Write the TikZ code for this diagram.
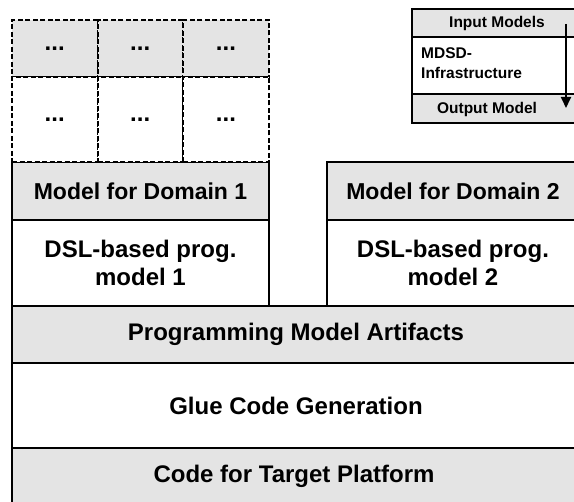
\documentclass[tikz,border=0pt]{standalone}
\usepackage{fontspec}
\setmainfont{Liberation Sans}
\usetikzlibrary{arrows.meta}
\definecolor{boxgray}{HTML}{E4E4E4}
\tikzset{
  base/.style={draw=black, line width=2pt, inner sep=0pt, outer sep=0pt, anchor=north west,
    font=\fontsize{24}{27.5}\selectfont\bfseries, align=center},
  graybox/.style={base, fill=boxgray},
  whitebox/.style={base, fill=white},
  headfont/.style={font=\fontsize{23}{27}\selectfont\bfseries},
  dashcell/.style={draw=black, line width=2pt, dash pattern=on 5pt off 2.5pt, inner sep=0pt,
    outer sep=0pt, anchor=north west, font=\fontsize{24}{27}\selectfont\bfseries},
  insetbox/.style={draw=black, line width=2pt, inner sep=0pt, outer sep=0pt, anchor=north west},
  insetfont/.style={font=\fontsize{15.5}{20}\selectfont\bfseries},
  flowarrow/.style={line width=1.8pt, -{Triangle[width=10pt,length=11pt]}}
}
\begin{document}
\begin{tikzpicture}[x=1pt, y=-1pt]
\useasboundingbox (0,0) rectangle (574,502);
\clip (0,0) rectangle (574,502);
% bottom layers
\node[graybox, minimum width=568pt, minimum height=57pt] (pma) at (12,306) {Programming Model Artifacts};
\node[whitebox, minimum width=568pt, minimum height=85pt] (glue) at (12,363) {Glue Code Generation};
\node[graybox, minimum width=568pt, minimum height=60pt] (code) at (12,448) {};
\node at (294,476) [font=\fontsize{24}{27}\selectfont\bfseries] (codetxt) {Code for Target Platform};
% domain 1
\node[graybox, headfont, minimum width=257pt, minimum height=58pt] (dom1) at (12,162) {Model for Domain 1};
\node[whitebox, minimum width=257pt, minimum height=86pt] (dsl1) at (12,220) {DSL-based prog.\\model 1};
% domain 2
\node[graybox, headfont, minimum width=252pt, minimum height=58pt] (dom2) at (327,162) {Model for Domain 2};
\node[whitebox, minimum width=252pt, minimum height=86pt] (dsl2) at (327,220) {DSL-based prog.\\model 2};
% dashed grid
\node[dashcell, fill=boxgray, minimum width=85.5pt, minimum height=57pt] (g11) at (12,20) {...};
\node[dashcell, fill=boxgray, minimum width=85.5pt, minimum height=57pt] (g12) at (97.5,20) {...};
\node[dashcell, fill=boxgray, minimum width=86pt, minimum height=57pt] (g13) at (183,20) {...};
\node[dashcell, fill=white, minimum width=85.5pt, minimum height=85pt] (g21) at (12,77) {...};
\node[dashcell, fill=white, minimum width=85.5pt, minimum height=85pt] (g22) at (97.5,77) {...};
\node[dashcell, fill=white, minimum width=86pt, minimum height=85pt] (g23) at (183,77) {...};
% inset legend
\node[insetbox, fill=boxgray, minimum width=166pt, minimum height=28pt] (inp) at (412,9) {};
\node[insetfont] (inptxt) at (497,23) {Input Models};
\node[insetbox, fill=white, minimum width=166pt, minimum height=57pt] (mdsd) at (412,37) {};
\node[insetfont, align=left, anchor=west, inner sep=0pt] (mdsdtxt) at (421,63) {MDSD-\\Infrastructure};
\node[insetbox, fill=boxgray, minimum width=166pt, minimum height=29pt] (outp) at (412,94) {};
\node[insetfont] (outptxt) at (487,109) {Output Model};
\coordinate (arrs) at (566,24);
\coordinate (arre) at (566,108);
\draw[flowarrow] (arrs) -- (arre);
\end{tikzpicture}
\end{document}
